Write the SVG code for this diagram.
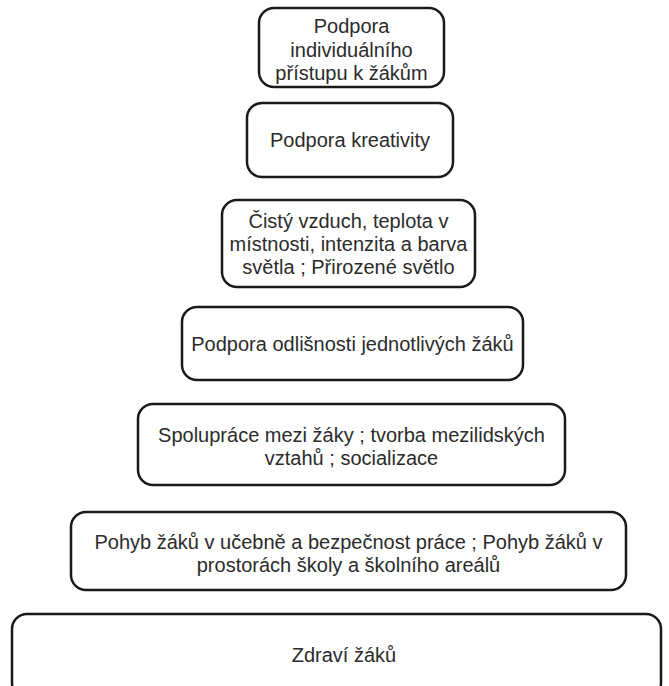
<svg xmlns="http://www.w3.org/2000/svg" width="669" height="686" viewBox="0 0 669 686">
<style>
.box{fill:#fff;stroke:#1a1a1a;stroke-width:2.5}
.t{font-family:"Liberation Sans",Arial,sans-serif;font-size:20px;fill:#2b2b2b;text-anchor:middle}
</style>
<rect width="669" height="686" fill="#fff"/>
<g id="connectors"></g>
<g id="n1"><rect class="box" x="259" y="8" width="185" height="79" rx="15"/>
<text class="t" x="351.5" y="33">Podpora</text>
<text class="t" x="351.5" y="57">individuálního</text>
<text class="t" x="351.5" y="80">přístupu k žákům</text></g>
<g id="n2"><rect class="box" x="247" y="103" width="206" height="74" rx="15"/>
<text class="t" x="350" y="147">Podpora kreativity</text></g>
<g id="n3"><rect class="box" x="222" y="200" width="253" height="87" rx="15"/>
<text class="t" x="348.5" y="228">Čistý vzduch, teplota v</text>
<text class="t" x="348.5" y="251">místnosti, intenzita a barva</text>
<text class="t" x="348.5" y="274">světla ; Přirozené světlo</text></g>
<g id="n4"><rect class="box" x="182" y="307" width="341" height="73" rx="15"/>
<text class="t" x="352.5" y="351">Podpora odlišnosti jednotlivých žáků</text></g>
<g id="n5"><rect class="box" x="138" y="404" width="427" height="81" rx="15"/>
<text class="t" x="351.5" y="442">Spolupráce mezi žáky ; tvorba mezilidských</text>
<text class="t" x="351.5" y="465">vztahů ; socializace</text></g>
<g id="n6"><rect class="box" x="71" y="512" width="555" height="78" rx="15"/>
<text class="t" x="348.5" y="549">Pohyb žáků v učebně a bezpečnost práce ; Pohyb žáků v</text>
<text class="t" x="348.5" y="572">prostorách školy a školního areálů</text></g>
<g id="n7"><rect class="box" x="12" y="614" width="649" height="84" rx="15"/>
<text class="t" x="344" y="662">Zdraví žáků</text></g>
</svg>
